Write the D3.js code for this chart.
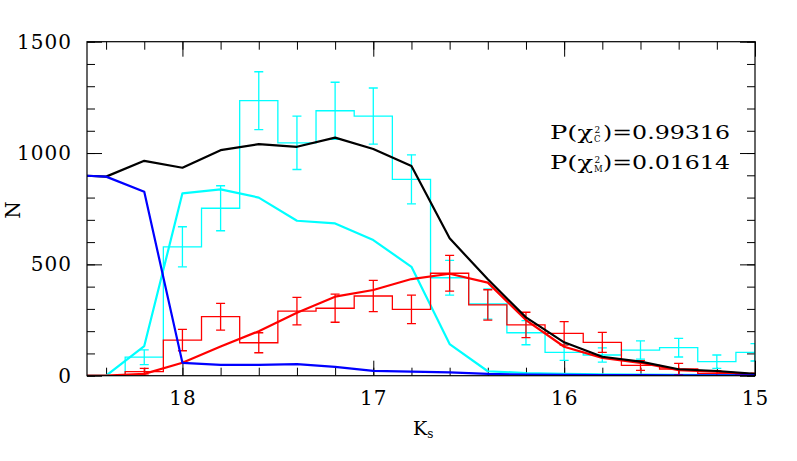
<!DOCTYPE html>
<html>
<head>
<meta charset="utf-8">
<script src="https://cdn.jsdelivr.net/npm/d3@7"></script>
<style>
  html, body { margin: 0; padding: 0; background: #fff; }
  svg { display: block; }
  text { font-family: "DejaVu Serif", "Liberation Serif", serif; fill: #000; }
</style>
</head>
<body>
<svg id="chart" width="797" height="461"></svg>
<script>
// ---------- data ----------
const modelX = [18.5, 18.4, 18.2, 18.0, 17.8, 17.6, 17.4, 17.2, 17.0, 16.8, 16.6, 16.4, 16.2, 16.0, 15.8, 15.6, 15.4, 15.2, 15.0];
const modelTotal = [898, 894, 965, 934, 1013, 1040, 1028, 1069, 1018, 942, 617, 433, 262, 150, 85, 63, 29, 21, 8];
const modelBlue  = [898, 894, 826, 58, 49, 49, 52, 40, 22, 18, 15, 8, 5, 4, 3, 3, 2, 2, 2];
const modelCyan  = [0, 0, 133, 819, 837, 800, 696, 684, 609, 489, 142, 20, 12, 8, 6, 5, 4, 3, 3];
const modelRed   = [0, 0, 8, 58, 131, 200, 283, 355, 385, 434, 458, 418, 250, 130, 80, 58, 25, 18, 5];

const binCenters = [18.2, 18.0, 17.8, 17.6, 17.4, 17.2, 17.0, 16.8, 16.6, 16.4, 16.2, 16.0, 15.8, 15.6, 15.4, 15.2, 15.0];
const binWidth = 0.2;
const histCyan    = [83, 579, 752, 1235, 1046, 1190, 1166, 882, 440, 322, 193, 105, 93, 115, 126, 63, 105];
const histCyanErr = [33, 90, 101, 130, 120, 128, 126, 110, 78, 68, 54, 36, 32, 41, 42, 30, 39];
const histRed     = [18, 160, 265, 148, 290, 303, 358, 298, 460, 318, 228, 190, 150, 46, 30, 10, 4];
const histRedErr  = [15, 48, 60, 45, 62, 63, 70, 64, 80, 68, 57, 53, 45, 22, 25, 12, 8];

const xTicksMajor = [18, 17, 16, 15];
const yTicksMajor = [0, 500, 1000, 1500];
const annotLines = [
  { sub: "C", value: "0.99316" },
  { sub: "M", value: "0.01614" }
];

// ---------- layout ----------
const L = 87, R = 755, T = 41.7, B = 375.7;
const svg = d3.select("#chart");
const x = d3.scaleLinear().domain([18.5, 15]).range([L, R]);
const y = d3.scaleLinear().domain([0, 1500]).range([B, T]);

svg.append("defs").append("clipPath").attr("id", "plotclip")
  .append("rect").attr("x", L).attr("y", T - 20).attr("width", R - L).attr("height", B - T + 20);

const xMinor = d3.range(18.4, 14.95, -0.2).map(v => +v.toFixed(1));
const yMinor = d3.range(0, 1501, 100);

function styleAxis(g) {
  g.select(".domain").remove();
  g.selectAll(".tick line").attr("stroke", "#000").attr("stroke-width", 1);
  g.selectAll(".tick text").attr("font-size", 20).attr("letter-spacing", 1)
    .attr("font-family", '"DejaVu Serif", serif');
}

// bottom
svg.append("g").attr("transform", `translate(0,${B})`)
  .call(d3.axisBottom(x).tickValues(xMinor).tickSize(-8).tickFormat("")).call(styleAxis);
svg.append("g").attr("transform", `translate(0,${B})`)
  .call(d3.axisBottom(x).tickValues(xTicksMajor).tickSize(-15).tickPadding(15).tickFormat(d3.format("d"))).call(styleAxis);
// top
svg.append("g").attr("transform", `translate(0,${T})`)
  .call(d3.axisTop(x).tickValues(xMinor).tickSize(-8).tickFormat("")).call(styleAxis);
svg.append("g").attr("transform", `translate(0,${T})`)
  .call(d3.axisTop(x).tickValues(xTicksMajor).tickSize(-15).tickFormat("")).call(styleAxis);
// left
svg.append("g").attr("transform", `translate(${L},0)`)
  .call(d3.axisLeft(y).tickValues(yMinor).tickSize(-8).tickFormat("")).call(styleAxis);
svg.append("g").attr("transform", `translate(${L},0)`)
  .call(d3.axisLeft(y).tickValues(yTicksMajor).tickSize(-15).tickPadding(15).tickFormat(d3.format("d"))).call(styleAxis);
// right
svg.append("g").attr("transform", `translate(${R},0)`)
  .call(d3.axisRight(y).tickValues(yMinor).tickSize(-8).tickFormat("")).call(styleAxis);
svg.append("g").attr("transform", `translate(${R},0)`)
  .call(d3.axisRight(y).tickValues(yTicksMajor).tickSize(-15).tickFormat("")).call(styleAxis);

// ---------- data layers ----------
const plot = svg.append("g").attr("clip-path", "url(#plotclip)");

function histogram(values, errs, color) {
  const pts = [{ x: binCenters[0] + binWidth * 1.5, v: 0 }];
  binCenters.forEach((c, i) => pts.push({ x: c + binWidth / 2, v: values[i] }));
  pts.push({ x: binCenters[binCenters.length - 1] - binWidth / 2, v: values[values.length - 1] });
  plot.append("path")
    .attr("d", d3.line().x(d => x(d.x)).y(d => y(d.v)).curve(d3.curveStepAfter)(pts))
    .attr("fill", "none").attr("stroke", color).attr("stroke-width", 1.3);
  const g = plot.append("g").attr("stroke", color).attr("stroke-width", 1.3);
  binCenters.forEach((c, i) => {
    const cx = x(c), y0 = y(values[i] - errs[i]), y1 = y(values[i] + errs[i]);
    g.append("line").attr("x1", cx).attr("x2", cx).attr("y1", y0).attr("y2", y1);
    g.append("line").attr("x1", cx - 4.5).attr("x2", cx + 4.5).attr("y1", y0).attr("y2", y0);
    g.append("line").attr("x1", cx - 4.5).attr("x2", cx + 4.5).attr("y1", y1).attr("y2", y1);
  });
}

function modelLine(vals, color) {
  plot.append("path")
    .attr("d", d3.line().x((d, i) => x(modelX[i])).y(d => y(d))(vals))
    .attr("fill", "none").attr("stroke", color).attr("stroke-width", 2.2)
    .attr("stroke-linejoin", "round");
}

histogram(histCyan, histCyanErr, "#00ffff");
modelLine(modelCyan, "#00ffff");
histogram(histRed, histRedErr, "#ff0000");
modelLine(modelRed, "#ff0000");
modelLine(modelTotal, "#000000");
modelLine(modelBlue, "#0000ff");

// frame
svg.append("rect").attr("x", L).attr("y", T).attr("width", R - L).attr("height", B - T)
  .attr("fill", "none").attr("stroke", "#000").attr("stroke-width", 1.2);

// ---------- labels ----------
svg.append("text").attr("transform", "translate(20,210) rotate(-90)")
  .attr("text-anchor", "middle").attr("font-size", 20).text("N");

const xl = svg.append("text").attr("x", 413).attr("y", 435).attr("font-size", 19);
xl.append("tspan").text("K");
xl.append("tspan").attr("font-size", 12).attr("dy", 3).text("s");

annotLines.forEach((a, i) => {
  const by = 138.5 + i * 30;
  svg.append("text").attr("x", 550).attr("y", by).attr("font-size", 19)
    .attr("textLength", 43).attr("lengthAdjust", "spacingAndGlyphs").text("P(χ");
  svg.append("text").attr("x", 594.5).attr("y", by - 6).attr("font-size", 9).text("2");
  svg.append("text").attr("x", 594).attr("y", by + 3.5).attr("font-size", 8.5).text(a.sub);
  svg.append("text").attr("x", 603).attr("y", by).attr("font-size", 19)
    .attr("textLength", 127).attr("lengthAdjust", "spacingAndGlyphs").text(")=" + a.value);
});
</script>
</body>
</html>
